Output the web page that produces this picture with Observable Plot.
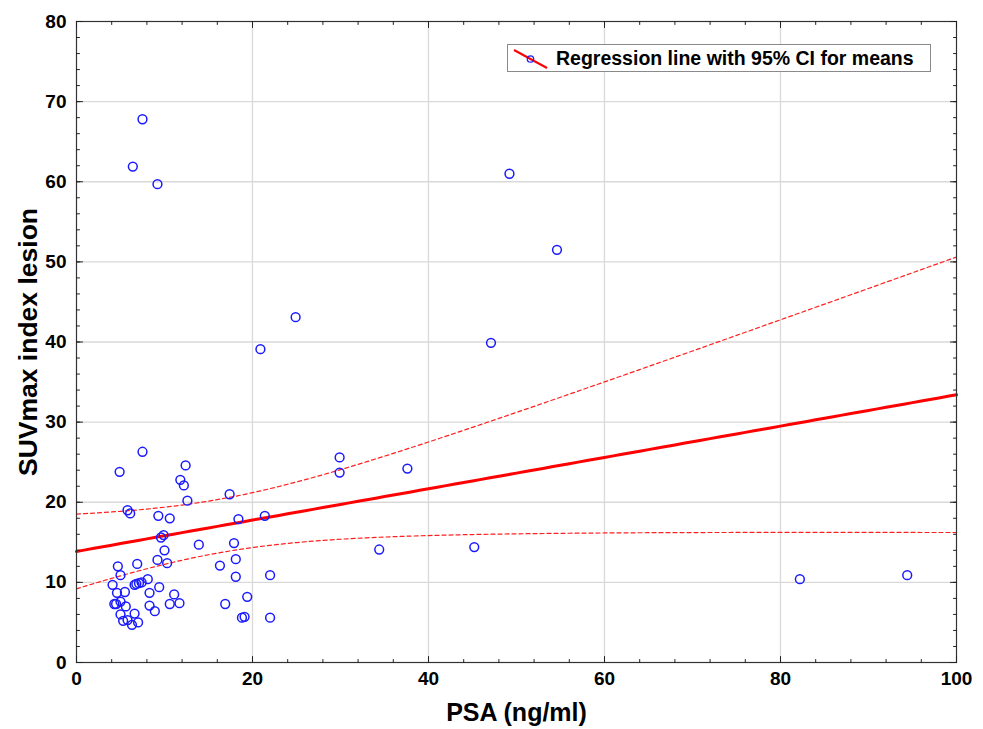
<!DOCTYPE html>
<html>
<head>
<meta charset="utf-8">
<script src="https://cdn.jsdelivr.net/npm/d3@7"></script>
<script src="https://cdn.jsdelivr.net/npm/@observablehq/plot@0.6"></script>
<style>
  html, body { margin: 0; padding: 0; background: #fff; }
  #wrap { position: relative; width: 983px; height: 729px; font-family: "Liberation Sans", Arial, sans-serif; }
  #legend { position: absolute; left: 507px; top: 44px; width: 422px; height: 26px; border: 1px solid #8a8a8a; background: #fff; }
  #legend svg { position: absolute; left: 0; top: 0; }
  #legend span { position: absolute; left: 48px; top: 1px; font-size: 19.5px; font-weight: bold; color: #000; white-space: nowrap; line-height: 24px; }
</style>
</head>
<body>
<div id="wrap">
  <div id="legend">
    <svg width="44" height="26"><line x1="6" y1="5" x2="39" y2="23" stroke="#ff0000" stroke-width="2"/><circle cx="22.5" cy="14" r="3.2" fill="none" stroke="#1f1fff" stroke-width="1.3"/></svg>
    <span>Regression line with 95% CI for means</span>
  </div>
</div>
<script>
// PSA (ng/ml) and SUVmax index lesion
const psa = [7.5, 4.9, 12.4, 11.8, 12.2, 17.4, 12.6, 5.8, 6.1, 9.3, 10.6, 18.4, 21.4, 9.9, 9.6, 10.0, 13.9, 17.9, 18.1, 9.2,
  10.3, 6.9, 16.3, 4.7, 5.0, 18.1, 22.0, 4.1, 6.6, 6.8, 7.1, 7.4, 8.1, 9.4, 4.6, 5.5, 8.3, 11.1, 19.4, 4.3,
  4.5, 5.0, 5.6, 8.3, 10.6, 11.7, 16.9, 8.9, 5.0, 6.6, 5.3, 5.8, 7.0, 6.3, 18.8, 19.1, 22.0,
  7.5, 6.4, 9.2, 24.9, 20.9,
  29.9, 29.9, 37.6, 34.4, 45.2, 49.2, 54.6, 47.1, 82.2, 94.4];
const suv = [26.3, 23.8, 24.6, 22.8, 22.1, 21.0, 20.2, 19.0, 18.6, 18.3, 18.0, 17.9, 18.3, 15.9, 15.6, 14.0, 14.7, 14.9, 12.9, 12.8,
  12.4, 12.3, 12.1, 12.0, 10.9, 10.7, 10.9, 9.7, 9.7, 9.8, 9.9, 10.0, 10.4, 9.4, 8.7, 8.8, 8.7, 8.5, 8.2, 7.3,
  7.3, 7.6, 7.0, 7.1, 7.3, 7.4, 7.3, 6.4, 6.0, 6.1, 5.2, 5.3, 5.0, 4.7, 5.6, 5.7, 5.6,
  67.8, 61.9, 59.7, 43.1, 39.1,
  25.6, 23.7, 24.2, 14.1, 14.4, 61.0, 51.5, 39.9, 10.4, 10.9];

const xMajorTicks = [0, 20, 40, 60, 80, 100];
const yMajorTicks = [0, 10, 20, 30, 40, 50, 60, 70, 80];
const xMinorTicks = d3.range(0, 101, 4);
const yMinorTicks = d3.range(0, 81, 2);
const xLabel = "PSA (ng/ml)";
const yLabel = "SUVmax index lesion";

const points = psa.map((x, i) => ({x, y: suv[i]}));

// ordinary least squares with 95% CI for the mean
const n = psa.length;
const mx = d3.mean(psa), my = d3.mean(suv);
const sxx = d3.sum(psa, x => (x - mx) ** 2);
const sxy = d3.sum(psa.map((x, i) => (x - mx) * (suv[i] - my)));
const slope = sxy / sxx, intercept = my - slope * mx;
const sse = d3.sum(psa.map((x, i) => (suv[i] - intercept - slope * x) ** 2));
const se = Math.sqrt(sse / (n - 2));
const tcrit = 1.997;
const fitX = d3.range(0, 100.5, 1);
const fit = fitX.map(x => {
  const yh = intercept + slope * x;
  const h = tcrit * se * Math.sqrt(1 / n + (x - mx) ** 2 / sxx);
  return {x, y: yh, lo: yh - h, hi: yh + h};
});

const tickShape = {draw(ctx, l) { ctx.moveTo(0, 0); ctx.lineTo(0, -l); }};
const tickStyle = {stroke: "#222", strokeWidth: 1, shape: tickShape, anchor: "start"};

const chart = Plot.plot({
  width: 983,
  height: 729,
  marginLeft: 76,
  marginRight: 27,
  marginTop: 21,
  marginBottom: 67,
  style: {fontFamily: "Liberation Sans, Arial, sans-serif", fontWeight: "bold", color: "#000", background: "#fff"},
  x: {domain: [0, 100]},
  y: {domain: [0, 80]},
  marks: [
    Plot.gridX(xMajorTicks.slice(1, -1), {stroke: "#d9d9d9", strokeOpacity: 1, strokeWidth: 1.3}),
    Plot.gridY(yMajorTicks.slice(1, -1), {stroke: "#d9d9d9", strokeOpacity: 1, strokeWidth: 1.3}),
    Plot.line(fit, {x: "x", y: "hi", stroke: "#ff2020", strokeWidth: 1.2, strokeDasharray: "4,3"}),
    Plot.line(fit, {x: "x", y: "lo", stroke: "#ff2020", strokeWidth: 1.2, strokeDasharray: "4,3"}),
    Plot.line(fit, {x: "x", y: "y", stroke: "#ff0000", strokeWidth: 3}),
    Plot.dot(points, {x: "x", y: "y", r: 4.4, stroke: "#1a1aff", strokeWidth: 1.5, fill: "none"}),
    Plot.frame({stroke: "#333", strokeWidth: 1.2}),
    // inward ticks, minor and major, on all four sides
    Plot.vector(xMinorTicks, {x: d => d, y: 0, length: 3, rotate: 0, ...tickStyle}),
    Plot.vector(xMinorTicks, {x: d => d, y: 80, length: 3, rotate: 180, ...tickStyle}),
    Plot.vector(yMinorTicks, {x: 0, y: d => d, length: 3, rotate: 90, ...tickStyle}),
    Plot.vector(yMinorTicks, {x: 100, y: d => d, length: 3, rotate: -90, ...tickStyle}),
    Plot.vector(xMajorTicks, {x: d => d, y: 0, length: 6, rotate: 0, ...tickStyle}),
    Plot.vector(xMajorTicks, {x: d => d, y: 80, length: 6, rotate: 180, ...tickStyle}),
    Plot.vector(yMajorTicks, {x: 0, y: d => d, length: 6, rotate: 90, ...tickStyle}),
    Plot.vector(yMajorTicks, {x: 100, y: d => d, length: 6, rotate: -90, ...tickStyle}),
    Plot.axisX(xMajorTicks, {tickSize: 0, tickPadding: 9, fontSize: 19, fontWeight: "bold", fill: "#000", label: null}),
    Plot.axisY(yMajorTicks, {tickSize: 0, tickPadding: 10, fontSize: 19, fontWeight: "bold", fill: "#000", label: null}),
    Plot.text([xLabel], {text: d => d, frameAnchor: "bottom", dy: 58, fontSize: 25, fontWeight: "bold", fill: "#000"}),
    Plot.text([yLabel], {text: d => d, frameAnchor: "left", textAnchor: "middle", dx: -48, rotate: -90, fontSize: 26.5, fontWeight: "bold", fill: "#000"})
  ]
});
document.getElementById("wrap").prepend(chart);
</script>
</body>
</html>
